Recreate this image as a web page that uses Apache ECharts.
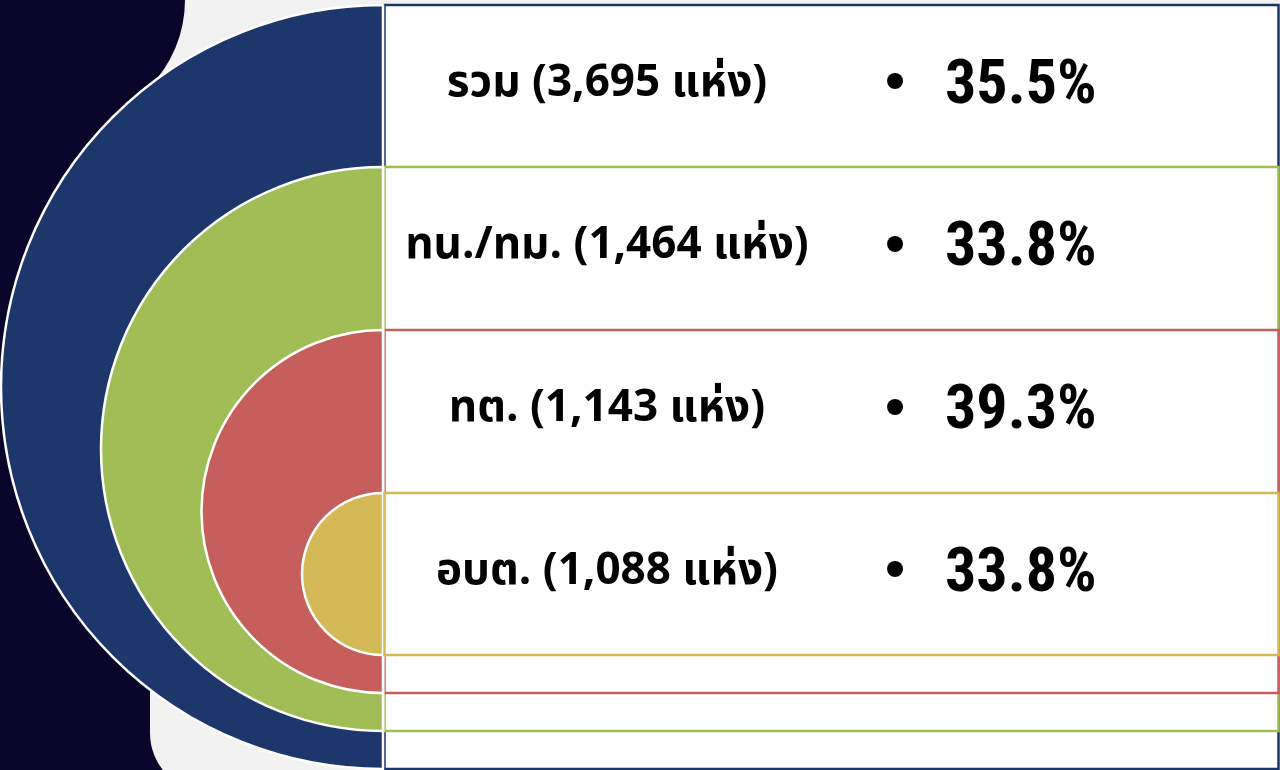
<!DOCTYPE html>
<html>
<head>
<meta charset="utf-8">
<script src="https://cdn.jsdelivr.net/npm/echarts@6/dist/echarts.min.js"></script>
<style>
  html, body { margin: 0; padding: 0; background: #f2f2f2; }
  #main { width: 1280px; height: 770px; }
</style>
</head>
<body>
<div id="main"></div>
<script>
// data
var groups = ['รวม', 'ทน./ทม.', 'ทต.', 'อบต.'];
var counts = [3695, 1464, 1143, 1088];
var percents = [35.5, 33.8, 39.3, 33.8];
var colors = ['#1d376d', '#a0bd56', '#c65f5c', '#d5b957'];

// layout
var tops = [5, 167, 330, 493];
var bottoms = [769, 731, 693, 655];
var edgeX = 383;
var rightX = 1278.5;
var dark = '#0a062b';

var chartDom = document.getElementById('main');
var myChart = echarts.init(chartDom);

var series = [];
var graphics = [
    { type: 'rect', z: -5, shape: { x: 150, y: -20, width: 1200, height: 813, r: [0, 0, 0, 60] }, style: { fill: '#f2f2f2' } },
    { type: 'circle', z: -4, shape: { cx: 61, cy: 0, r: 124 }, style: { fill: dark } }
];

groups.forEach(function (g, i) {
    var t = tops[i], b = bottoms[i];
    series.push({
        type: 'pie',
        silent: true,
        center: [edgeX, (t + b) / 2],
        radius: (b - t) / 2,
        startAngle: 90,
        clockwise: false,
        label: { show: false },
        labelLine: { show: false },
        emphasis: { disabled: true },
        data: [
            { name: g, value: counts[i], itemStyle: { color: colors[i], borderColor: '#ffffff', borderWidth: 2.5 } },
            { name: '', value: counts[i], itemStyle: { color: 'transparent', borderWidth: 0 } }
        ]
    });

    graphics.push({
        type: 'rect',
        z: i,
        shape: { x: edgeX + 1.5, y: t, width: rightX - edgeX - 1.5, height: b - t },
        style: { fill: '#ffffff', stroke: colors[i], lineWidth: 2.5 }
    });
});

groups.forEach(function (g, i) {
    var cy = i < groups.length - 1 ? (tops[i] + tops[i + 1]) / 2 : (tops[i] + bottoms[i]) / 2;
    graphics.push({
        type: 'text', z: 10,
        style: {
            text: g + ' (' + counts[i].toLocaleString('en-US') + ' แห่ง)',
            x: 607, y: cy + 1, textAlign: 'center', textVerticalAlign: 'middle',
            fill: '#000', font: 'bold 44px "Noto Sans Thai", "DejaVu Sans", "Noto Sans", sans-serif'
        }
    });
    graphics.push({
        type: 'text', z: 10,
        style: {
            text: '•', x: 895, y: cy - 2, textAlign: 'center', textVerticalAlign: 'middle',
            fill: '#000', font: 'bold 56px "Liberation Sans", Arial, sans-serif'
        }
    });
    graphics.push({
        type: 'text', z: 10,
        style: {
            text: percents[i].toFixed(1) + '%', x: 945, y: cy + 1, textAlign: 'left', textVerticalAlign: 'middle',
            fill: '#000', font: 'bold 62px "Liberation Sans Narrow", "Roboto Condensed", "Liberation Sans", sans-serif'
        }
    });
});

var option = {
    backgroundColor: dark,
    animation: false,
    graphic: { elements: graphics },
    series: series
};

myChart.setOption(option);
</script>
</body>
</html>
